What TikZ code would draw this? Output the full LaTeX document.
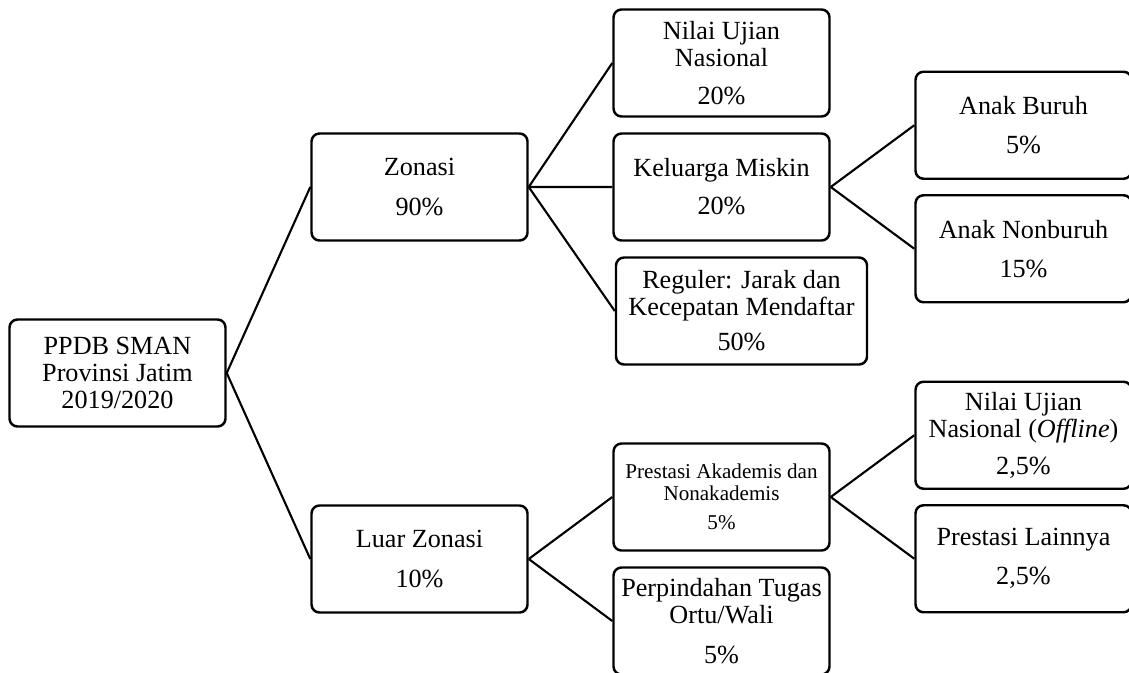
\documentclass[tikz,border=0pt]{standalone}
\usepackage{fontspec}
\setmainfont{Liberation Serif}
\usepackage{tikz}
\usetikzlibrary{arrows,shapes}
\tikzset{
  treenode/.style = {align=center, inner sep=2pt, text centered,
    font=\fontsize{14.9}{15.4}\selectfont},
  box/.style = {treenode, rectangle, rounded corners=0.16cm, draw=black, line width=1.4pt,
    minimum width=4.32cm, minimum height=2.14cm},% kotak biasa
  widebox/.style = {box, minimum width=5.02cm},% kotak lebar (reguler)
  smallbox/.style = {box, font=\fontsize{12}{12.6}\selectfont},% kotak teks kecil
  link/.style = {line width=1.2pt},
}
\begin{document}
\begin{tikzpicture}[grow'=right, level distance=6.04cm,
  level 1/.style={sibling distance=7.44cm},
  level 2/.style={sibling distance=2.48cm},
  level 3/.style={sibling distance=2.47cm},
  edge from parent/.style={draw=none}]
\useasboundingbox (0,0) rectangle (22.58,13.44);
\node (ppdb) [box] at (2.35,5.98) {PPDB SMAN\\Provinsi Jatim\\2019/2020}
    child{ node (zonasi) [box] {Zonasi\\[0.26cm]90\%}
            child{ node (nun) [box] {Nilai Ujian\\Nasional\\[0.22cm]20\%} }
            child{ node (gakin) [box] {Keluarga Miskin\\[0.22cm]20\%}
                child{ node (buruh) [box] {Anak Buruh\\[0.24cm]5\%} }
                child{ node (nonburuh) [box] {Anak Nonburuh\\[0.24cm]15\%} }
            }
            child{ node (reguler) [widebox, xshift=0.4cm] {Reguler: Jarak dan\\Kecepatan Mendaftar\\[0.16cm]50\%} }
    }
    child{ node (luar) [box] {Luar Zonasi\\[0.26cm]10\%}
            child{ node (prestasi) [smallbox] {Prestasi Akademis dan\\Nonakademis\\[0.14cm]5\%}
                child{ node (offline) [box] {Nilai Ujian\\Nasional (\textit{Offline})\\[0.2cm]2,5\%} }
                child{ node (lainnya) [box] {Prestasi Lainnya\\[0.24cm]2,5\%} }
            }
            child{ node (mutasi) [box] {Perpindahan Tugas\\Ortu/Wali\\[0.26cm]5\%} }
    };
% garis penghubung
\foreach \from/\to in {ppdb/zonasi, ppdb/luar, zonasi/nun, zonasi/gakin, zonasi/reguler,
  gakin/buruh, gakin/nonburuh, luar/prestasi, luar/mutasi, prestasi/offline, prestasi/lainnya}
  \draw[link] (\from.east) -- (\to.west);
\end{tikzpicture}
\end{document}
